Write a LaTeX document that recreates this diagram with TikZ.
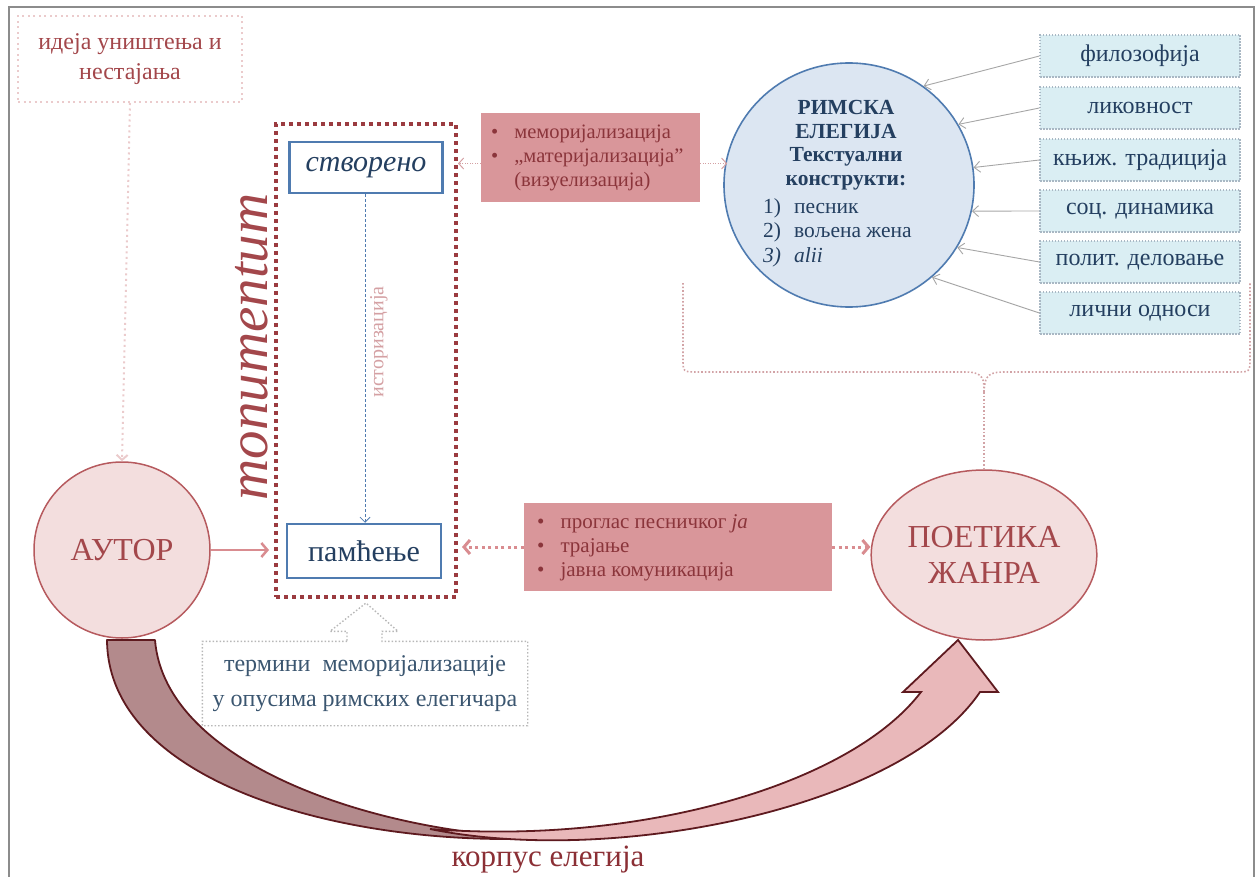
\documentclass[tikz,border=0pt]{standalone}
\usepackage{fontspec}
\setmainfont{Liberation Serif}
\usetikzlibrary{shapes.geometric,arrows.meta,calc}
\definecolor{framegray}{HTML}{8C8C8C}
\definecolor{lpink}{HTML}{EBCBCC}
\definecolor{redtext}{HTML}{A3474B}
\definecolor{framered}{HTML}{9B3B40}
\definecolor{pinkfill}{HTML}{F3DEDE}
\definecolor{pinkborder}{HTML}{B65A5E}
\definecolor{salmon}{HTML}{D9969A}
\definecolor{salmontext}{HTML}{8B353B}
\definecolor{arrowpink}{HTML}{D98C90}
\definecolor{bluebord}{HTML}{4F7BB0}
\definecolor{bluetext}{HTML}{243F60}
\definecolor{bluefill}{HTML}{DCE6F2}
\definecolor{cyanfill}{HTML}{DAEEF3}
\definecolor{cyanbord}{HTML}{A9B8C4}
\definecolor{grayarrow}{HTML}{A6A6A6}
\definecolor{histpink}{HTML}{D4A0A3}
\definecolor{bracepink}{HTML}{D2A3A6}
\definecolor{termtext}{HTML}{3B5670}
\definecolor{termbord}{HTML}{B8B8B8}
\definecolor{ribbondark}{HTML}{B38A8C}
\definecolor{ribbonlight}{HTML}{E9B8BA}
\definecolor{ribbonedge}{HTML}{5E1A1F}
\definecolor{korptext}{HTML}{8B2F35}
\newcommand\myfs[2]{\fontsize{#1}{#2}\selectfont}
\begin{document}
\begin{tikzpicture}[x=1pt,y=-1pt,
  ideabox/.style={draw=lpink, line width=2pt, dash pattern=on 2pt off 3.5pt,
     minimum width=224, minimum height=86, align=center, text=redtext,
     font=\myfs{24}{30}},
  bigcirc/.style={ellipse, draw=pinkborder, fill=pinkfill, line width=1.5pt,
     text=redtext, align=center},
  monframe/.style={draw=framered, line width=4pt, dash pattern=on 4pt off 4pt,
     minimum width=180, minimum height=473},
  bluebox/.style={draw=bluebord, fill=white, line width=2.5pt, text=bluetext,
     font=\myfs{30}{34}, inner sep=0pt},
  salmonbox/.style={fill=salmon, inner sep=0pt},
  boxtext/.style={text=salmontext, inner sep=0pt, anchor=west},
  cbox/.style={draw=cyanbord, fill=cyanfill, line width=1.2pt,
     dash pattern=on 1.5pt off 1.5pt, minimum width=200, minimum height=42,
     text=bluetext, font=\myfs{24}{28}, inner sep=0pt},
  grayarr/.style={draw=grayarrow, line width=0.9pt,
     -{Straight Barb[length=6pt,width=11pt]}},
  thinpinkdot/.style={draw=histpink, line width=1pt, dash pattern=on 1pt off 1.5pt,
     -{Straight Barb[length=5pt,width=11pt]}},
  thickdot/.style={draw=arrowpink, line width=3pt, dash pattern=on 3pt off 3.5pt,
     -{Straight Barb[length=6pt,width=14pt,line width=3pt]}},
  termdot/.style={draw=termbord, line width=1.4pt, dash pattern=on 1.5pt off 2pt},
  bracedot/.style={draw=bracepink, line width=1.6pt, dash pattern=on 1.6pt off 2pt},
]
\useasboundingbox (0,0) rectangle (1257,877);
\draw[framegray, line width=1.5pt] (9,900) -- (9,7) -- (1254,7) -- (1254,900);

% top-left idea box
\node[ideabox] (idea) at (130,59) {идеја уништења и\\нестајања};

% autor circle
\node[bigcirc, minimum width=176, minimum height=176, font=\myfs{32}{36}] (autor) at (122,550) {АУТОР};

\draw[draw=lpink, line width=2pt, dash pattern=on 2pt off 3.5pt,
  -{Straight Barb[length=5pt,width=11pt,line width=2pt]}] (idea.south) -- (autor.north);

% monumentum frame
\node[monframe] (frame) at (366,360.5) {};
\node[bluebox, minimum width=153, minimum height=51] (stv) at (366,167.5) {\itshape створено};
\node[bluebox, minimum width=154, minimum height=54] (pam) at (364,551) {памћење};
\draw[draw=bluebord, line width=0.8pt, dash pattern=on 3pt off 2pt,
  -{Straight Barb[length=5pt,width=10pt]}] (stv.south -| 365,0) -- (pam.north -| 365,0);
\node[rotate=90, text=histpink, font=\myfs{20}{22}, inner sep=0pt] (hist) at (379,342) {историзација};
\node[rotate=90, text=redtext, font=\itshape\myfs{57}{60}, inner sep=0pt] (mon) at (252,347) {monumentum};

% autor -> frame
\draw[draw=arrowpink, line width=2.5pt, shorten >=5pt,
  -{Straight Barb[length=6pt,width=14pt,line width=2.5pt]}] (autor.east) -- (autor.east -| frame.west);

% salmon box 1
\node[salmonbox, minimum width=219, minimum height=89] (r1) at (590.5,157.5) {};
\node[boxtext, font=\myfs{20.5}{24}] (r1t) at (491,158)
 {\begin{tabular}{@{}l@{\hspace{16pt}}l@{}}•&меморијализација\\•&„материјализација”\\&(визуелизација)\end{tabular}};

% blue circle
\node[ellipse, draw=bluebord, fill=bluefill, line width=1.6pt, minimum width=250, minimum height=244] (circ) at (849,185) {};
\node[text=bluetext, font=\bfseries\myfs{21.5}{23.5}, align=center, inner sep=0pt] (circT) at (846,145)
 {РИМСКА\\ЕЛЕГИЈА\\Текстуални\\конструкти:};
\node[text=bluetext, font=\myfs{21.5}{24.5}, anchor=west, inner sep=0pt] (circL) at (763,233)
 {\begin{tabular}{@{}l@{\hspace{13pt}}l@{}}1)&песник\\2)&вољена жена\\\textit{3)}&\textit{alii}\end{tabular}};

\draw[thinpinkdot] ([yshift=-6pt]r1.west) -- ([yshift=-6pt]r1.west -| frame.east);
\draw[thinpinkdot] ([yshift=-6pt]r1.east) -- ([yshift=-6pt,xshift=4pt]r1.east -| circ.west);

% right boxes
\node[cbox] (b1) at (1140,56) {филозофија};
\node[cbox] (b2) at (1140,108) {ликовност};
\node[cbox] (b3) at (1140,160) {књиж. традиција};
\node[cbox] (b4) at (1140,211) {соц. динамика};
\node[cbox] (b5) at (1140,262) {полит. деловање};
\node[cbox] (b6) at (1140,313) {лични односи};
\draw[grayarr] (b1.west) -- (circ.53);
\draw[grayarr] (b2.west) -- (circ.29);
\draw[grayarr] (b3.west) -- (circ.8);
\draw[grayarr] (b4.west) -- (circ.-12);
\draw[grayarr] (b5.west) -- (circ.-30);
\draw[grayarr] (b6.west) -- (circ.-48);

% poetika circle
\node[bigcirc, minimum width=192, minimum height=170, font=\myfs{32}{36}] (poet) at (984,555) {ПОЕТИКА\\ЖАНРА};

% salmon box 2
\node[salmonbox, minimum width=308, minimum height=88] (r2) at (678,547) {};
\node[boxtext, font=\myfs{21}{24}] (r2t) at (537,548)
 {\begin{tabular}{@{}l@{\hspace{16pt}}l@{}}•&проглас песничког \textit{ја}\\•&трајање\\•&јавна комуникација\end{tabular}};
\draw[thickdot] (r2.west) -- ([xshift=4pt]r2.west -| frame.east);
\draw[thickdot] (r2.east) -- (r2.east -| poet.west);

% brace
\coordinate (stem) at (984,392);
\draw[bracedot] (683,283) -- (683,358) .. controls (683,372) .. (697,372) -- (966,372)
  .. controls (984,372) and (984,380) .. (stem);
\draw[bracedot] (stem) .. controls (985,380) and (985,372) .. (1003,372) -- (1236,372)
  .. controls (1250,372) .. (1250,358) -- (1250,283);
\draw[bracedot] (stem) -- (poet.north);

% terms box
\node[text=termtext, font=\myfs{24}{35}, align=center, minimum width=325, minimum height=84, inner sep=0pt] (term) at (365,683.5)
 {термини\ \ меморијализације\\у опусима римских елегичара};
\draw[termdot] ($(term.north)+(-18,0)$) -- (term.north west) -- (term.south west) -- (term.south east)
  -- (term.north east) -- ($(term.north)+(17,0)$) -- ($(term.north)+(17,-10)$) -- ($(term.north)+(33,-10)$)
  -- ([yshift=-4pt]frame.south) -- ($(term.north)+(-35,-10)$) -- ($(term.north)+(-18,-10)$) -- cycle;

% ribbon arrow
\filldraw[fill=ribbondark, draw=ribbonedge, line width=1.8pt, line join=round]
  (107,640) -- (155,640) .. controls (165,765) and (380,835) .. (548,838)
  .. controls (350,848) and (108,785) .. (107,640) -- cycle;
\filldraw[fill=ribbonlight, draw=ribbonedge, line width=1.8pt, line join=miter]
  (430,829) .. controls (610,866) and (900,810) .. (980,692)
  -- (998,692) -- (958,640) -- (903,692) -- (921,692)
  .. controls (850,785) and (640,845) .. (430,829) -- cycle;
\node[text=korptext, font=\myfs{31}{34}] (korp) at (548,860) {корпус елегија};
\end{tikzpicture}
\end{document}
